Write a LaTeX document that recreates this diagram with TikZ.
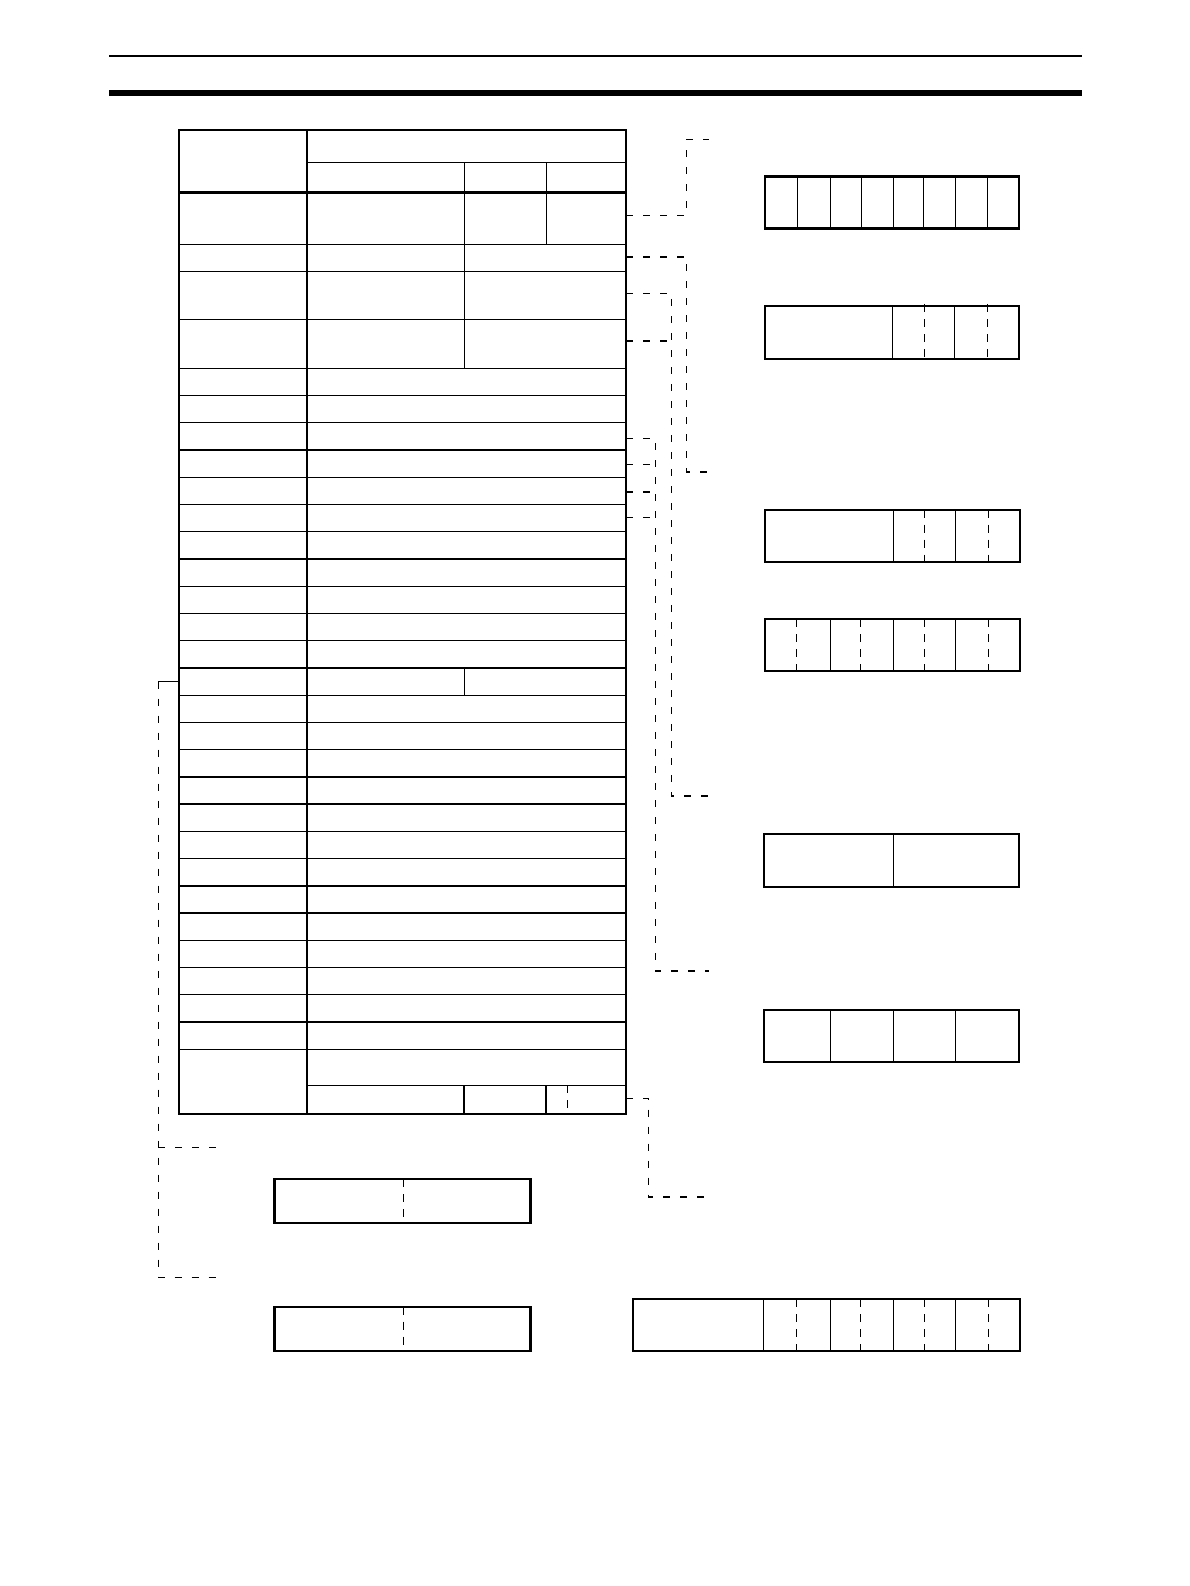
\documentclass[tikz,border=0pt]{standalone}
\begin{document}
\begin{tikzpicture}[x=1pt,y=-1pt,
	frame/.style={line width=2.4pt},
	cell/.style={line width=1.3pt},
	link/.style={line width=1.3pt, dash pattern=on 7pt off 10pt},
	split/.style={line width=1.3pt, dash pattern=on 8pt off 7pt}]
	\useasboundingbox (0,0) rectangle (1190,1586);
	% page head
	\draw[line width=1.7pt] (109,55.7) -- (1082,55.7);
	\fill (109,90) rectangle (1082,96);

	% the table
	\draw[cell] (306.7,162.3) -- (626,162.3)
		(179,244.3) -- (626,244.3)
		(179,271.3) -- (626,271.3)
		(179,319.3) -- (626,319.3)
		(306.7,1085.3) -- (626,1085.3);
	\foreach \k in {0,...,25}
		\draw[cell] (179,{368.3+\k*27.24}) -- (626,{368.3+\k*27.24});
	\draw[cell] (464.3,162.3) -- (464.3,368.3)
		(546.3,162.3) -- (546.3,244.3)
		(464.3,667.9) -- (464.3,695.2)
		(464,1085.3) -- (464,1113.7)
		(546,1085.3) -- (546,1113.7);
	\draw[split] (567.5,1085.3) -- (567.5,1113.7);
	\draw[frame] (179,192.7) -- (626,192.7)
		(306.7,130) -- (306.7,1113.7)
		(179,130) rectangle (626,1113.7);

	% registers
	\foreach \x in {797.7,830.3,861.3,893.3,923.3,955.3,987.3}
		\draw[cell] (\x,176.7) -- (\x,228.7);
	\draw[frame] (765,176.7) rectangle (1019,228.7);

	\draw[cell] (765,306) rectangle (1019,359)
		(892.3,306) -- (892.3,359) (954.3,306) -- (954.3,359);
	\draw[split] (924.3,304) -- (924.3,359) (987.3,304) -- (987.3,359);
	\draw[frame] (765,359) -- (1019,359);

	\draw[cell] (893.3,509.7) -- (893.3,563) (955.3,509.7) -- (955.3,562);
	\draw[split] (924.3,509.7) -- (924.3,563) (988.3,509.7) -- (988.3,562);
	\draw[frame] (765,509.7) rectangle (1020,562);

	\foreach \x in {830.3,893.3,955.3}
		\draw[cell] (\x,619) -- (\x,670.7);
	\foreach \x in {796.3,860.3,924.3,988.3}
		\draw[split] (\x,619) -- (\x,672);
	\draw[frame] (765,619) rectangle (1020,670.7);

	\draw[cell] (893.3,833.7) -- (893.3,886.7);
	\draw[frame] (764,833.7) rectangle (1019,886.7);

	\foreach \x in {830.3,893.3,955.3}
		\draw[cell] (\x,1009.7) -- (\x,1061.7);
	\draw[frame] (764,1009.7) rectangle (1019,1061.7);

	\draw[split] (403.2,1179) -- (403.2,1222.7);
	\draw[frame] (274.6,1179) rectangle (530.4,1222.7);
	\draw[split] (403.2,1306.7) -- (403.2,1351);
	\draw[frame] (274.6,1306.7) rectangle (530.4,1351);

	\foreach \x in {763.3,830.3,893.3,955.3}
		\draw[cell] (\x,1299) -- (\x,1352);
	\foreach \x in {796.3,860.3,924.3,988.3}
		\draw[split] (\x,1299) -- (\x,1352);
	\draw[frame] (632.7,1299) rectangle (1020,1350.7);

	% links
	\coordinate (a1) at (626,215.3);
	\coordinate (a2) at (709,139.3);
	\coordinate (b1) at (626,257);
	\coordinate (b2) at (709,472);
	\coordinate (c1) at (626,293.3);
	\coordinate (c2) at (626,341);
	\coordinate (c3) at (709,796);
	\coordinate (d1) at (626,438.3);
	\coordinate (d2) at (626,464.3);
	\coordinate (d3) at (626,492);
	\coordinate (d4) at (626,517.3);
	\coordinate (d5) at (709,971);
	\coordinate (e1) at (626,1098.3);
	\coordinate (e2) at (704,1197);
	\coordinate (f1) at (179,681.7);
	\coordinate (f2) at (158.3,681.7);
	\coordinate (f3) at (220.7,1147.3);
	\coordinate (f4) at (220.7,1277.3);

	\draw[link] (a1) -- (686.7,215.3) |- (a2);
	\draw[link] (b1) -- (686.7,257) |- (b2);
	\draw[link] (c1) -- (671.3,293.3) |- (c3);
	\draw[link] (c2) -- (671.3,341);
	\draw[link] (d1) -- (655.3,438.3) |- (d5);
	\foreach \p in {d2,d3,d4}
		\draw[link] (\p) -- (655.3,0 |- \p);
	\draw[link] (e1) -- (648.7,1098.3) |- (e2);
	\draw[cell] (f1) -- (f2);
	\draw[link] (f2) |- (f4);
	\draw[link] (158.3,1147.3) -- (f3);
\end{tikzpicture}
\end{document}
